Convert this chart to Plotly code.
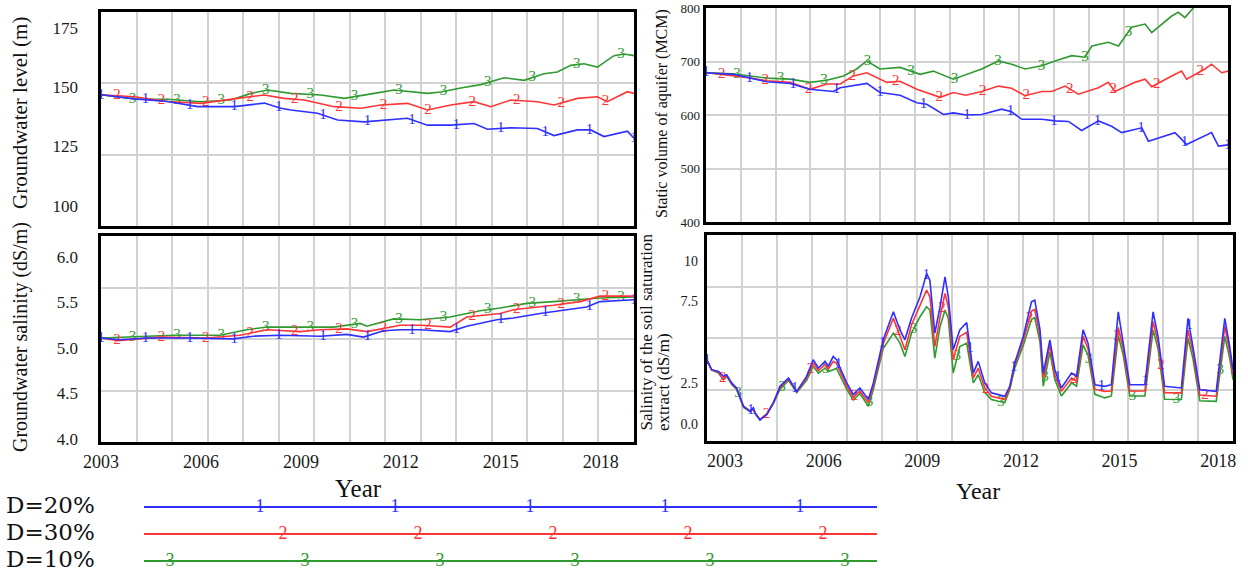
import numpy as np
import plotly.graph_objects as go

# ---------------- data ----------------
series_names = ["D=20%", "D=30%", "D=10%"]
series_ids = ["1", "2", "3"]

# Groundwater level (m)
gl_t_d20 = [2003.0, 2004.0, 2005.0, 2005.9, 2007.0, 2007.9, 2008.4, 2008.7, 2009.5, 2010.1, 2010.9,
            2012.0, 2012.2, 2012.8, 2013.5, 2014.2, 2014.6, 2015.3, 2016.1, 2016.6, 2017.3, 2017.7,
            2018.1, 2018.8, 2019.0]
gl_d20 = [146.8, 145.1, 144.0, 141.8, 141.8, 143.3, 141.1, 140.4, 139.0, 136.2, 135.4,
          136.6, 136.9, 134.0, 134.0, 134.7, 132.3, 132.9, 132.6, 129.6, 132.0, 132.0,
          129.2, 131.5, 128.5]
gl_t_d30 = [2003.0, 2004.0, 2005.0, 2006.0, 2007.1, 2007.9, 2008.5, 2009.1, 2010.0, 2010.8, 2011.4,
            2012.2, 2012.8, 2013.5, 2014.2, 2014.7, 2015.3, 2016.1, 2016.6, 2017.3, 2017.9, 2018.2,
            2018.8, 2019.0]
gl_d30 = [146.8, 146.0, 144.0, 143.2, 145.3, 146.7, 145.3, 144.6, 141.8, 141.1, 142.5,
          143.2, 140.4, 142.5, 143.9, 141.8, 144.6, 143.9, 142.5, 145.3, 146.0, 143.9,
          148.1, 147.4]
gl_t_d10 = [2003.0, 2004.0, 2005.0, 2006.0, 2006.9, 2007.5, 2008.0, 2008.7, 2009.6, 2010.3, 2011.2,
            2011.8, 2012.8, 2013.2, 2013.8, 2014.4, 2015.1, 2015.7, 2016.3, 2016.7, 2017.1, 2017.5,
            2017.9, 2018.4, 2018.7, 2019.0]
gl_d10 = [146.8, 145.0, 144.9, 143.9, 144.6, 147.4, 148.8, 147.4, 146.7, 145.3, 147.4,
          148.8, 147.4, 148.0, 149.7, 151.1, 154.0, 152.9, 155.7, 156.4, 159.2, 159.9,
          158.5, 163.3, 164.0, 163.3]

# Groundwater salinity (dS/m)
gs_t_d20 = [2003.0, 2003.57, 2004.37, 2005.57, 2006.97, 2007.57, 2008.38, 2009.58, 2010.38, 2010.88,
            2011.48, 2012.0, 2012.58, 2013.48, 2013.98, 2014.88, 2015.38, 2016.18, 2016.98, 2017.58,
            2017.98, 2019.0]
gs_d20 = [5.11, 5.09, 5.11, 5.11, 5.10, 5.13, 5.14, 5.13, 5.15, 5.12,
          5.19, 5.20, 5.20, 5.18, 5.24, 5.31, 5.33, 5.38, 5.42, 5.45,
          5.51, 5.53]
gs_t_d30 = [2003.0, 2003.5, 2004.77, 2006.17, 2007.17, 2007.98, 2008.98, 2009.58, 2010.38, 2010.98,
            2011.98, 2012.63, 2013.48, 2013.98, 2014.98, 2015.38, 2016.58, 2017.38, 2017.98, 2019.0]
gs_d30 = [5.11, 5.08, 5.12, 5.11, 5.14, 5.20, 5.18, 5.20, 5.21, 5.18,
          5.25, 5.25, 5.23, 5.34, 5.38, 5.42, 5.47, 5.51, 5.57, 5.57]
gs_t_d10 = [2003.0, 2003.97, 2005.17, 2006.57, 2007.37, 2007.98, 2009.18, 2009.98, 2010.78, 2010.98,
            2011.78, 2012.58, 2013.48, 2014.38, 2014.98, 2015.78, 2016.58, 2017.18, 2017.98, 2019.0]
gs_d10 = [5.11, 5.12, 5.14, 5.14, 5.20, 5.23, 5.23, 5.23, 5.27, 5.24,
          5.32, 5.31, 5.34, 5.41, 5.44, 5.49, 5.51, 5.53, 5.55, 5.56]

# Static volume of aquifer (MCM)
sv_t_d20 = [2002.42, 2003.25, 2003.76, 2004.27, 2004.98, 2005.58, 2006.29, 2006.5, 2007.31, 2007.71,
            2008.32, 2008.83, 2009.13, 2009.64, 2009.94, 2010.35, 2010.8, 2011.41, 2011.71, 2012.02,
            2012.63, 2013.03, 2013.44, 2013.84, 2014.35, 2014.75, 2015.06, 2015.67, 2015.87, 2016.68,
            2017.03, 2017.79, 2018.0, 2018.42]
sv_d20 = [679, 676, 669, 662, 659, 648, 644, 651, 659, 642,
          637, 623, 620, 601, 604, 600, 601, 611, 606, 592,
          592, 589, 588, 571, 589, 579, 567, 576, 551, 567,
          545, 567, 542, 545]
sv_t_d30 = [2002.42, 2002.9, 2003.76, 2004.27, 2004.98, 2005.58, 2006.09, 2006.5, 2006.9, 2007.31,
            2007.92, 2008.32, 2008.83, 2009.54, 2009.94, 2010.32, 2010.8, 2011.31, 2011.71, 2012.12,
            2012.63, 2012.93, 2013.34, 2013.74, 2014.35, 2014.65, 2014.85, 2015.46, 2015.77, 2015.97,
            2016.58, 2016.88, 2017.03, 2017.59, 2017.79, 2018.1, 2018.42]
sv_d30 = [679, 676, 669, 664, 661, 648, 658, 658, 673, 679,
          661, 663, 648, 633, 642, 637, 644, 654, 650, 636,
          644, 644, 654, 639, 651, 661, 644, 661, 667, 653,
          673, 682, 667, 686, 695, 679, 684]
sv_t_d10 = [2002.42, 2003.25, 2003.76, 2004.27, 2004.98, 2005.58, 2006.09, 2006.6, 2007.0, 2007.31,
            2007.71, 2008.32, 2008.93, 2009.33, 2009.94, 2010.32, 2010.8, 2011.31, 2011.71, 2012.12,
            2012.63, 2013.03, 2013.54, 2013.94, 2014.15, 2014.65, 2014.96, 2015.36, 2015.77, 2015.97,
            2016.58, 2016.78, 2016.98, 2017.29, 2017.8, 2018.42]
sv_d10 = [679, 677, 673, 669, 667, 661, 665, 673, 686, 701,
          686, 689, 676, 682, 667, 675, 686, 701, 695, 686,
          692, 701, 711, 708, 729, 736, 729, 764, 770, 754,
          785, 792, 782, 804, 825, 845]

# Salinity of the soil saturation extract (dS/m)
ss_t = [2002.42, 2002.59, 2002.8, 2002.95, 2003.05, 2003.2, 2003.35, 2003.56, 2003.76, 2003.86,
        2003.91, 2004.06, 2004.27, 2004.47, 2004.67, 2004.93, 2005.18, 2005.48, 2005.68, 2005.84,
        2006.04, 2006.14, 2006.29, 2006.39, 2006.7, 2006.9, 2007.1, 2007.36, 2007.51, 2007.81,
        2008.12, 2008.32, 2008.47, 2008.67, 2008.93, 2009.13, 2009.23, 2009.38, 2009.54, 2009.69,
        2009.79, 2009.94, 2010.14, 2010.35, 2010.55, 2010.7, 2010.9, 2011.1, 2011.31, 2011.51,
        2011.66, 2011.81, 2012.07, 2012.32, 2012.42, 2012.58, 2012.68, 2012.88, 2013.03, 2013.23,
        2013.54, 2013.69, 2013.89, 2014.04, 2014.25, 2014.55, 2014.75, 2014.96, 2015.11, 2015.31,
        2015.77, 2016.02, 2016.17, 2016.37, 2016.88, 2017.08, 2017.23, 2017.44, 2017.94, 2018.2,
        2018.35, 2018.45]
ss_d20 = [4.02, 3.31, 3.2, 2.9, 3.0, 2.5, 2.19, 1.07, 0.77, 0.97,
          0.67, 0.22, 0.56, 1.28, 2.29, 2.8, 1.98, 2.9, 3.92, 3.41,
          3.82, 3.51, 4.12, 3.92, 2.5, 1.78, 2.19, 1.48, 2.5, 5.14,
          6.86, 5.75, 5.14, 6.46, 7.78, 9.2, 8.8, 5.55, 7.17, 9.0,
          7.78, 4.53, 5.75, 6.2, 3.1, 3.82, 2.5, 1.89, 1.78, 1.68,
          2.29, 3.72, 5.35, 7.47, 7.57, 5.75, 3.1, 5.14, 3.31, 2.19,
          3.1, 2.9, 5.75, 4.94, 2.39, 2.29, 2.39, 6.86, 4.94, 2.39,
          2.39, 6.86, 5.35, 2.29, 2.19, 6.46, 4.73, 2.08, 1.98, 6.46,
          4.73, 3.31]
ss_d30 = [4.0, 3.3, 3.15, 2.7, 2.95, 2.45, 2.15, 1.05, 0.75, 0.92,
          0.65, 0.25, 0.6, 1.3, 2.2, 2.75, 1.95, 2.8, 3.72, 3.25,
          3.62, 3.35, 3.82, 3.7, 2.3, 1.6, 2.0, 1.28, 2.3, 4.9,
          6.46, 5.35, 4.53, 6.05, 7.27, 8.19, 7.78, 4.73, 6.56, 7.98,
          7.17, 3.92, 5.35, 5.6, 2.8, 3.4, 2.2, 1.68, 1.58, 1.48,
          2.2, 3.6, 5.1, 6.9, 7.0, 5.4, 2.8, 4.8, 3.0, 1.98,
          2.8, 2.6, 5.35, 4.6, 2.1, 1.98, 2.0, 5.9, 4.6, 2.0,
          2.0, 6.26, 5.0, 1.9, 1.89, 5.75, 4.4, 1.75, 1.68, 5.96,
          4.4, 3.0]
ss_d10 = [4.0, 3.3, 3.1, 2.7, 2.9, 2.4, 2.1, 1.0, 0.75, 0.9,
          0.62, 0.25, 0.6, 1.25, 2.1, 2.65, 1.9, 2.65, 3.5, 3.1,
          3.4, 3.2, 3.31, 3.4, 2.1, 1.45, 1.85, 1.07, 2.1, 4.6,
          5.55, 4.94, 4.12, 5.55, 6.56, 7.17, 6.97, 4.02, 5.96, 6.97,
          6.46, 3.1, 4.73, 4.94, 2.5, 3.0, 1.9, 1.48, 1.37, 1.3,
          2.1, 3.4, 4.8, 6.4, 6.5, 5.0, 2.3, 4.4, 2.7, 1.7,
          2.5, 2.3, 4.83, 4.2, 1.8, 1.58, 1.7, 5.4, 4.2, 1.7,
          1.7, 5.75, 4.6, 1.5, 1.48, 5.24, 4.0, 1.4, 1.37, 5.35,
          4.0, 2.7]

year_ticks = [2003, 2006, 2009, 2012, 2015, 2018]
gl_ticks = [100, 125, 150, 175]
gs_ticks = [4.0, 4.5, 5.0, 5.5, 6.0]
sv_ticks = [400, 500, 600, 700, 800]
ss_ticks = [0.0, 2.5, 7.5, 10]
ss_ticktext = ["0.0", "2.5", "7.5", "10"]

# ---------------- styling / layout ----------------
W, H = 1248, 574
SERIF = "Liberation Serif, Times New Roman, serif"
COL = {"1": "#2f2fff", "2": "#ff3535", "3": "#2f9a2f"}

fig = go.Figure()


def dom_x(l, r):
    return [l / W, r / W]


def dom_y(t, b):
    return [1 - b / H, 1 - t / H]


panels = [
    dict(box=(101, 634, 12, 226), ngy=3, xr=[2003, 2019], yr=[91.5, 181.7],
         showx=False, ytv=gl_ticks, ytt=[str(v) for v in gl_ticks], yfs=17, ystd=22,
         series=[(gl_t_d20, gl_d20), (gl_t_d30, gl_d30), (gl_t_d10, gl_d10)]),
    dict(box=(101, 634, 236, 442), ngy=4, xr=[2003, 2019], yr=[3.967, 6.231],
         showx=True, ytv=gs_ticks, ytt=[f"{v:.1f}" for v in gs_ticks], yfs=17, ystd=22,
         series=[(gs_t_d20, gs_d20), (gs_t_d30, gs_d30), (gs_t_d10, gs_d10)]),
    dict(box=(706, 1228, 8, 222), ngy=4, xr=[2002.42, 2018.29], yr=[400, 800],
         showx=False, ytv=sv_ticks, ytt=[str(v) for v in sv_ticks], yfs=13, ystd=5,
         series=[(sv_t_d20, sv_d20), (sv_t_d30, sv_d30), (sv_t_d10, sv_d10)]),
    dict(box=(707, 1233, 235, 441), ngy=4, xr=[2002.45, 2018.45], yr=[-1.064, 11.57],
         showx=True, ytv=ss_ticks, ytt=ss_ticktext, yfs=14, ystd=8,
         series=[(ss_t, ss_d20), (ss_t, ss_d30), (ss_t, ss_d10)]),
]

marker_offsets = [0.0, 0.36, 0.71]
layout_axes = {}

for i, p in enumerate(panels):
    b = 2 * i + 1
    d = 2 * i + 2
    bx = "x" if b == 1 else f"x{b}"
    by = "y" if b == 1 else f"y{b}"
    bxk = "xaxis" if b == 1 else f"xaxis{b}"
    byk = "yaxis" if b == 1 else f"yaxis{b}"
    l, r, t, bt = p["box"]
    # base axes: grid + frame
    layout_axes[bxk] = dict(domain=dom_x(l, r), range=[0, 15], dtick=1, tick0=0, anchor=by,
                            showgrid=True, gridcolor="#d2d2d2", gridwidth=1.6, zeroline=False,
                            showticklabels=False, ticks="", showline=True, mirror=True,
                            linecolor="black", linewidth=2.6, fixedrange=True, automargin=False)
    layout_axes[byk] = dict(domain=dom_y(t, bt), range=[0, p["ngy"]], dtick=1, tick0=0, anchor=bx,
                            showgrid=True, gridcolor="#d2d2d2", gridwidth=1.6, zeroline=False,
                            showticklabels=False, ticks="", showline=True, mirror=True,
                            linecolor="black", linewidth=2.6, fixedrange=True, automargin=False)
    fig.add_trace(go.Scatter(x=[None], y=[None], xaxis=bx, yaxis=by, showlegend=False,
                             hoverinfo="skip"))
    # data axes overlaying the base
    layout_axes[f"xaxis{d}"] = dict(overlaying=bx, anchor=f"y{d}", range=p["xr"], showgrid=False,
                                    zeroline=False, showline=False, ticks="",
                                    tickvals=year_ticks, showticklabels=p["showx"],
                                    tickfont=dict(family=SERIF, size=18, color="#1a1a1a"),
                                    ticklabelstandoff=7, fixedrange=True, automargin=False)
    layout_axes[f"yaxis{d}"] = dict(overlaying=by, anchor=f"x{d}", side="left", range=p["yr"],
                                    showgrid=False, zeroline=False, showline=False, ticks="",
                                    tickvals=p["ytv"], ticktext=p["ytt"],
                                    tickfont=dict(family=SERIF, size=p["yfs"], color="#1a1a1a"),
                                    ticklabelstandoff=p["ystd"], fixedrange=True, automargin=False)
    period = (p["xr"][1] - p["xr"][0]) / 12.0
    for k in [2, 1, 0]:
        ts, vs = p["series"][k]
        sid = series_ids[k]
        fig.add_trace(go.Scatter(x=ts, y=vs, mode="lines", xaxis=f"x{d}", yaxis=f"y{d}",
                                 line=dict(color=COL[sid], width=1.6), showlegend=False,
                                 name=series_names[k], hoverinfo="skip"))
        mx = np.arange(p["xr"][0] + marker_offsets[k] * period, max(ts) + 1e-6, period)
        my = np.interp(mx, ts, vs)
        keep = my <= p["yr"][1] - 0.04 * (p["yr"][1] - p["yr"][0])
        fig.add_trace(go.Scatter(x=mx[keep], y=my[keep], mode="text", text=[sid] * int(keep.sum()),
                                 textposition="middle center", xaxis=f"x{d}", yaxis=f"y{d}",
                                 textfont=dict(family=SERIF, size=15, color=COL[sid]),
                                 showlegend=False, hoverinfo="skip"))

# ---------------- custom legend strip ----------------
layout_axes["xaxis9"] = dict(domain=[0, 1], range=[0, W], visible=False, anchor="y9",
                             fixedrange=True, automargin=False)
layout_axes["yaxis9"] = dict(domain=[0, 1 - 490 / H], range=[-0.48, 2.63], visible=False,
                             anchor="x9", fixedrange=True, automargin=False)
leg_rows = [2, 1, 0]
leg_first = [260, 283, 170]
leg_span = [144, 877]
leg_step = 135
for k in range(3):
    sid = series_ids[k]
    row = leg_rows[k]
    fig.add_trace(go.Scatter(x=leg_span, y=[row, row], mode="lines", xaxis="x9", yaxis="y9",
                             line=dict(color=COL[sid], width=2), showlegend=False,
                             hoverinfo="skip"))
    mk = np.arange(leg_first[k], leg_span[1] - 20, leg_step)
    fig.add_trace(go.Scatter(x=mk, y=[row] * len(mk), mode="text", text=[sid] * len(mk),
                             textposition="middle center", xaxis="x9", yaxis="y9",
                             textfont=dict(family=SERIF, size=18, color=COL[sid]),
                             showlegend=False, hoverinfo="skip"))
    fig.add_trace(go.Scatter(x=[6], y=[row], mode="text", text=[series_names[k]],
                             textposition="middle right", xaxis="x9", yaxis="y9",
                             textfont=dict(family="DejaVu Serif", size=23, color="#111111"),
                             showlegend=False, hoverinfo="skip"))

annotations = [
    dict(text="Groundwater level (m)", x=20 / W, y=1 - 113 / H, textangle=-90,
         font=dict(family=SERIF, size=21, color="#111")),
    dict(text="Groundwater salinity (dS/m)", x=20 / W, y=1 - 337 / H, textangle=-90,
         font=dict(family=SERIF, size=20, color="#111")),
    dict(text="Static volume of aquifer (MCM)", x=662 / W, y=1 - 114 / H, textangle=-90,
         font=dict(family=SERIF, size=16, color="#111")),
    dict(text="Salinity of the soil saturation", x=646 / W, y=1 - 433 / H, textangle=-90,
         yanchor="bottom", font=dict(family=SERIF, size=17, color="#111")),
    dict(text="extract (dS/m)", x=663 / W, y=1 - 433 / H, textangle=-90,
         yanchor="bottom", font=dict(family=SERIF, size=17, color="#111")),
    dict(text="Year", x=358 / W, y=1 - 488 / H, font=dict(family=SERIF, size=25, color="#111")),
    dict(text="Year", x=978 / W, y=1 - 491 / H, font=dict(family=SERIF, size=24, color="#111")),
]
for a in annotations:
    a.update(xref="paper", yref="paper", showarrow=False)
    a.setdefault("xanchor", "center")
    a.setdefault("yanchor", "middle")

fig.update_layout(width=W, height=H, margin=dict(l=0, r=0, t=0, b=0),
                  paper_bgcolor="white", plot_bgcolor="white", showlegend=False,
                  annotations=annotations, **layout_axes)

fig.write_html("out.html", config={"displayModeBar": False},
               post_script="document.body.style.margin='0';document.body.style.overflow='hidden';")
